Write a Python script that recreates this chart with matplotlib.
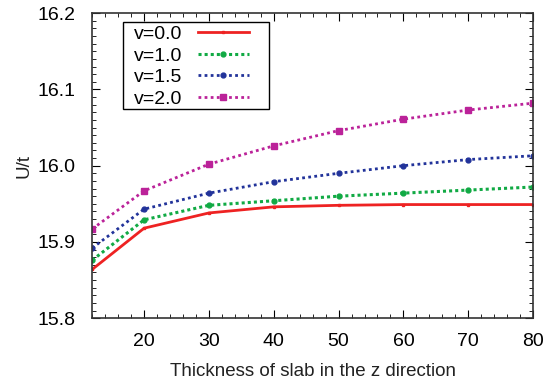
import matplotlib
matplotlib.use("Agg")
import matplotlib.pyplot as plt
from matplotlib.ticker import MultipleLocator
from matplotlib.patches import Rectangle

plt.rcParams['font.family'] = ['Liberation Sans', 'DejaVu Sans']

# thickness of slab
x = [12, 20, 30, 40, 50, 60, 70, 80]
# U/t for each v
u_v00 = [15.864, 15.918, 15.938, 15.946, 15.948, 15.949, 15.949, 15.949]
u_v10 = [15.876, 15.929, 15.948, 15.954, 15.960, 15.964, 15.968, 15.972]
u_v15 = [15.892, 15.943, 15.964, 15.979, 15.990, 16.000, 16.008, 16.013]
u_v20 = [15.917, 15.967, 16.002, 16.026, 16.046, 16.061, 16.073, 16.082]

fig = plt.figure(figsize=(5.49, 3.88), dpi=100)
ax = fig.add_axes([0.168, 0.180, 0.803, 0.786])

ax.plot(x, u_v00, color='#ee2222', lw=2.0, marker='s', ms=2, label='v=0.0')
ax.plot(x, u_v10, color='#11aa44', lw=2.2, ls=(0, (1, 1)), marker='o', ms=3.5, label='v=1.0')
ax.plot(x, u_v15, color='#22339a', lw=2.0, ls=(0, (1, 1.2)), marker='o', ms=3.5, label='v=1.5')
ax.plot(x, u_v20, color='#bb2299', lw=2.0, ls=(0, (1, 1.2)), marker='s', ms=4.5, label='v=2.0')

ax.set_xlim(12, 80)
ax.set_ylim(15.8, 16.2)
ax.xaxis.set_major_locator(MultipleLocator(10))
ax.xaxis.set_minor_locator(MultipleLocator(2))
ax.yaxis.set_major_locator(MultipleLocator(0.1))
ax.yaxis.set_minor_locator(MultipleLocator(0.01))
ax.tick_params(which='both', direction='in', top=True, right=True, labelsize=14)
ax.tick_params(axis='x', pad=11)
ax.tick_params(axis='y', pad=12)
ax.tick_params(which='major', length=6)
ax.tick_params(which='minor', length=3)
ax.set_xticks([20, 30, 40, 50, 60, 70, 80])
ax.set_xticklabels(['20', '30', '40', '50', '60', '70', '80'])
ax.set_yticks([15.8, 15.9, 16.0, 16.1, 16.2])
ax.set_yticklabels(['15.8', '15.9', '16.0', '16.1', '16.2'])
for s in ax.spines.values():
    s.set_linewidth(1.2)
    s.set_color('#333333')

ax.set_xlabel('Thickness of slab in the z direction', fontsize=13.5, color='#222222', labelpad=9)
ax.set_ylabel('U/t', fontsize=13.5, color='#222222', labelpad=4)

leg = ax.legend(loc='upper left', bbox_to_anchor=(0.095, 0.960), fontsize=14,
                frameon=False, markerfirst=False, handlelength=2.6, labelspacing=0.2,
                borderpad=0, borderaxespad=0, handletextpad=0.8)
ax.add_patch(Rectangle((0.070, 0.685), 0.331, 0.285, transform=ax.transAxes,
                       fill=False, edgecolor='black', lw=1.0, zorder=5))

fig.savefig('out.png', dpi=100)
